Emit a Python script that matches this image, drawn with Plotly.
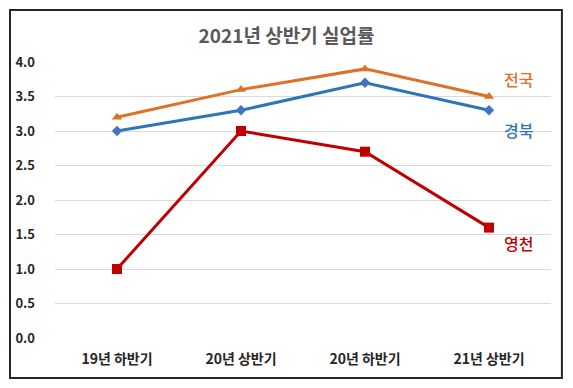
import plotly.graph_objects as go

categories = ["19년 하반기", "20년 상반기", "20년 하반기", "21년 상반기"]
national = [3.2, 3.6, 3.9, 3.5]
gyeongbuk = [3.0, 3.3, 3.7, 3.3]
yeongcheon = [1.0, 3.0, 2.7, 1.6]
series_names = ["전국", "경북", "영천"]
y_ticks = [0.0, 0.5, 1.0, 1.5, 2.0, 2.5, 3.0, 3.5, 4.0]

FONT = "Noto Sans CJK KR"
C_NAT = "#DD7128"
C_GB = "#2E75B6"
C_YC = "#C00000"

fig = go.Figure()
fig.add_trace(go.Scatter(x=categories, y=national, mode="lines+markers", name=series_names[0],
                         line=dict(color=C_NAT, width=3),
                         marker=dict(symbol="triangle-up", size=9, color=C_NAT)))
fig.add_trace(go.Scatter(x=categories, y=gyeongbuk, mode="lines+markers", name=series_names[1],
                         line=dict(color=C_GB, width=3),
                         marker=dict(symbol="diamond", size=8, color="#4472C4")))
fig.add_trace(go.Scatter(x=categories, y=yeongcheon, mode="lines+markers", name=series_names[2],
                         line=dict(color=C_YC, width=3),
                         marker=dict(symbol="square", size=10, color=C_YC)))

label_y = [3.75, 3.01, 1.38]
label_colors = [C_NAT, C_GB, C_YC]
for name, yv, col in zip(series_names, label_y, label_colors):
    fig.add_annotation(x=0.935, xref="paper", y=yv, yref="y", text=name, showarrow=False,
                       font=dict(family=FONT, size=16, color=col, weight=500), xanchor="center", yanchor="middle")

fig.add_shape(type="rect", xref="paper", yref="paper", x0=-0.0907, x1=1.022, y0=-0.145, y1=1.188,
              line=dict(color="#262626", width=2), fillcolor="rgba(0,0,0,0)", layer="below")

fig.update_layout(
    width=573, height=388,
    margin=dict(l=55, r=22, t=62, b=50),
    paper_bgcolor="white", plot_bgcolor="white",
    showlegend=False,
    title=dict(text="<b>2021년 상반기 실업률</b>", x=0.5, xanchor="center", y=1 - 36 / 388, yanchor="middle",
               font=dict(family=FONT, size=19, color="#595959")),
    font=dict(family=FONT, size=12, color="#262626"),
    xaxis=dict(range=[-0.5, 3.5], showgrid=False, zeroline=False, showline=False, ticks="", automargin=False,
               tickfont=dict(family=FONT, size=14, color="#262626", weight="bold"), ticklabelstandoff=11),
    yaxis=dict(range=[0, 4.0], tickvals=y_ticks, ticktext=[f"{v:.1f}" for v in y_ticks], automargin=False,
               showgrid=True, gridcolor="#D9D9D9", gridwidth=1, zeroline=False, showline=False, ticks="",
               tickfont=dict(family=FONT, size=13, color="#262626", weight="bold"), ticklabelstandoff=19),
)

fig.write_html("out.html", config={"displayModeBar": False},
               post_script="document.body.style.margin='0';document.body.style.overflow='hidden';")
